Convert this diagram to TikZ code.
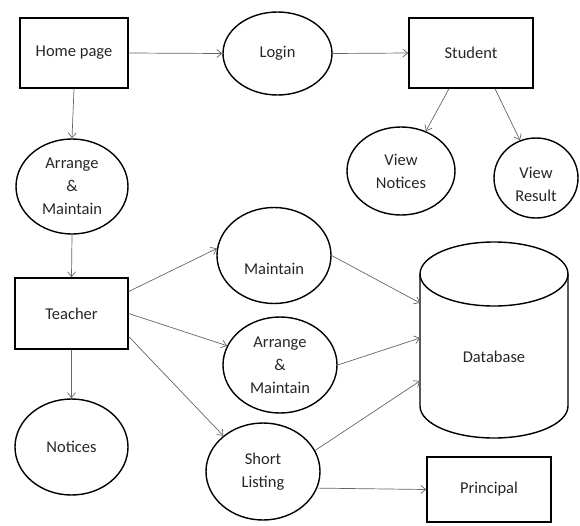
\documentclass[tikz,border=0pt]{standalone}
\usepackage{fontspec}
\setmainfont{Carlito}
\usetikzlibrary{shapes.geometric,arrows.meta}
\begin{document}
\begin{tikzpicture}[x=1pt,y=-1pt,
  every node/.style={font=\fontsize{16.5}{23}\selectfont, text=black!85, align=center, inner sep=0pt},
  box/.style={draw=black, line width=1.4pt, rectangle},
  proc/.style={draw=black, line width=1.4pt, ellipse},
  flow/.style={draw=black!60, line width=0.7pt, -{Straight Barb[length=5pt,width=8pt]}}]
\useasboundingbox (0,0) rectangle (580,525);

% entities and processes
\node[box, minimum width=108pt, minimum height=70pt] (home) at (74,53) {Home page};
\node[proc, minimum width=109pt, minimum height=83pt] (login) at (277.5,53.5) {Login};
\node[box, minimum width=124pt, minimum height=70pt] (student) at (471,53) {Student};
\node[proc, minimum width=108pt, minimum height=88pt] (vnot) at (401,171) {View\\Notices};
\node[proc, minimum width=84pt, minimum height=80pt] (vres) at (536,178) {};
\node (vreslbl) at ([yshift=-6pt]vres.center) {View\\Result};
\node[proc, minimum width=112pt, minimum height=95pt] (arr1) at (72,186.5) {Arrange\\\&\\Maintain};
\node[box, minimum width=113pt, minimum height=71pt] (teacher) at (71.5,313.5) {Teacher};
\node[proc, minimum width=113pt, minimum height=96pt] (notices) at (71.5,447) {Notices};
\node[proc, minimum width=114pt, minimum height=96pt] (maint) at (274,255.5) {};
\node (maintlbl) at ([yshift=-13pt]maint.center) {Maintain};
\node[proc, minimum width=114pt, minimum height=96pt] (arr2) at (280,365) {Arrange\\\&\\Maintain};
\node[proc, minimum width=114pt, minimum height=97pt] (short) at (263,471.5) {Short\\Listing};
\node[box, minimum width=124pt, minimum height=65pt] (principal) at (489,489.5) {Principal};

% database store
\draw[line width=1.4pt] (420,274) -- (420,406)
  arc[start angle=180, end angle=360, x radius=74pt, y radius=32pt] -- (568,274);
\draw[line width=1.4pt] (494,274) ellipse [x radius=74pt, y radius=32pt];
\node (db) at (494,357) {Database};
\coordinate (dbA) at (420,303);
\coordinate (dbB) at (420,338);
\coordinate (dbC) at (420,381);

% data flows
\draw[flow] (home.east) -- (login.west);
\draw[flow] (login.east) -- (student.west);
\draw[flow] ([xshift=-22pt]student.south) -- (vnot.58);
\draw[flow] ([xshift=24pt]student.south) -- (vres.113);
\draw[flow] (home.south) -- (arr1.north);
\draw[flow] (arr1.south) -- (teacher.north);
\draw[flow] (teacher.south) -- (notices.north);
\draw[flow] ([yshift=22pt]teacher.east) -- (maint.173);
\draw[flow] (teacher.east) -- (arr2.160);
\draw[flow] ([yshift=-23pt]teacher.east) -- (short.138);
\draw[flow] (maint.east) -- (dbA);
\draw[flow] (arr2.east) -- (dbB);
\draw[flow] (short.22) -- (dbC);
\draw[flow] (short.-17) -- (principal.west);
\end{tikzpicture}
\end{document}
